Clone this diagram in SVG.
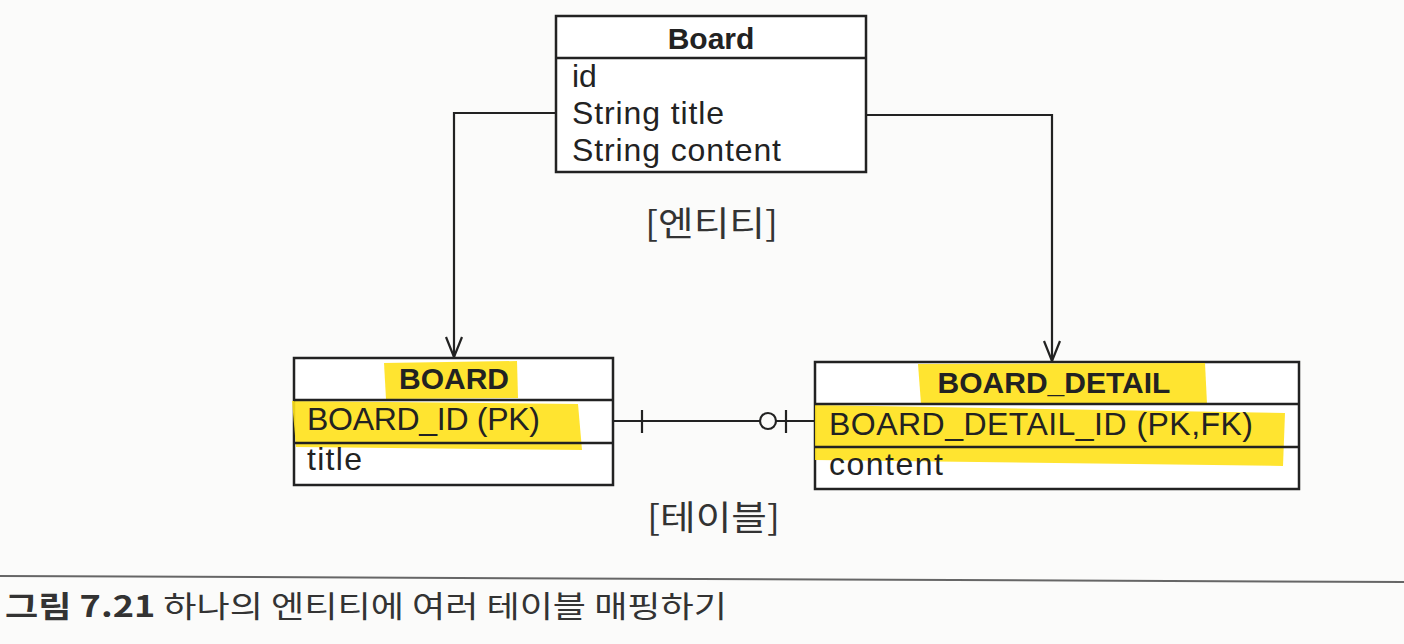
<svg xmlns="http://www.w3.org/2000/svg" width="1404" height="644" viewBox="0 0 1404 644">
<defs>
<style>
.box{fill:#fff;stroke:#222;stroke-width:2.5}
.sep{stroke:#222;stroke-width:2.5}
.t{font-family:"Liberation Sans","Noto Sans CJK KR",sans-serif;font-size:32px;fill:#222}
.b{font-weight:bold;font-size:30px}
.k{font-family:"Noto Sans CJK KR",sans-serif;font-size:34px;fill:#333}
.hl{fill:#ffe11a;opacity:0.9}
.conn{fill:none;stroke:#222;stroke-width:2.2}
</style>
</defs>
<rect width="1404" height="644" fill="#fbfbfa"/>

<g id="connectors">
<path class="conn" d="M556 113 H454 V357"/>
<path d="M446 337 L454 357 L462 337" fill="none" stroke="#222" stroke-width="2.2"/>
<path class="conn" d="M866 115 H1052 V361"/>
<path d="M1044 341 L1052 361 L1060 341" fill="none" stroke="#222" stroke-width="2.2"/>
<path class="conn" d="M613 421 H760"/>
<path class="conn" d="M776 421 H815"/>
<line class="conn" x1="642" y1="410" x2="642" y2="433"/>
<circle class="conn" cx="768" cy="421" r="8"/>
<line class="conn" x1="786" y1="410" x2="786" y2="433"/>
</g>

<g id="entity-Board">
<rect class="box" x="556" y="16" width="310" height="156"/>
<line class="sep" x1="556" y1="58" x2="866" y2="58"/>
<text class="t b" x="711" y="49" text-anchor="middle">Board</text>
<text class="t" x="572" y="87">id</text>
<text class="t" x="572" y="124" textLength="152">String title</text>
<text class="t" x="572" y="161" textLength="209">String content</text>
</g>
<text id="label-entity" class="k" x="645" y="236" textLength="133" lengthAdjust="spacingAndGlyphs">[엔티티]</text>

<g id="table-BOARD">
<rect class="box" x="294" y="358" width="319" height="127"/>
<path class="hl" d="M384 363 L517 361 L518 398 L386 399 Z"/>
<path class="hl" d="M292 401 L578 404 L582 450 L296 447 Z"/>
<line class="sep" x1="294" y1="400" x2="613" y2="400"/>
<line class="sep" x1="294" y1="443" x2="613" y2="443"/>
<text class="t b" x="454" y="389" text-anchor="middle">BOARD</text>
<text class="t" x="307" y="430" textLength="233">BOARD_ID (PK)</text>
<text class="t" x="307" y="470" textLength="55">title</text>
</g>

<g id="table-BOARD_DETAIL">
<rect class="box" x="815" y="362" width="484" height="127"/>
<path class="hl" d="M918 364 L1205 363 L1207 404 L921 404 Z"/>
<path class="hl" d="M815 405 L1285 413 L1283 466 L815 460 Z"/>
<line class="sep" x1="815" y1="404" x2="1299" y2="404"/>
<line class="sep" x1="815" y1="447" x2="1299" y2="447"/>
<text class="t b" x="1054" y="393" text-anchor="middle">BOARD_DETAIL</text>
<text class="t" x="829" y="435" textLength="424">BOARD_DETAIL_ID (PK,FK)</text>
<text class="t" x="829" y="475" textLength="114">content</text>
</g>
<text id="label-table" class="k" x="647" y="530" textLength="133" lengthAdjust="spacingAndGlyphs">[테이블]</text>

<g id="caption">
<line x1="0" y1="576" x2="1404" y2="582" stroke="#666" stroke-width="2"/>
<text x="5" y="617" textLength="722" lengthAdjust="spacingAndGlyphs" style="font-family:'Noto Sans CJK KR',sans-serif;font-size:30px;fill:#333"><tspan font-weight="bold">그림 7.21</tspan> 하나의 엔티티에 여러 테이블 매핑하기</text>
</g>
</svg>
